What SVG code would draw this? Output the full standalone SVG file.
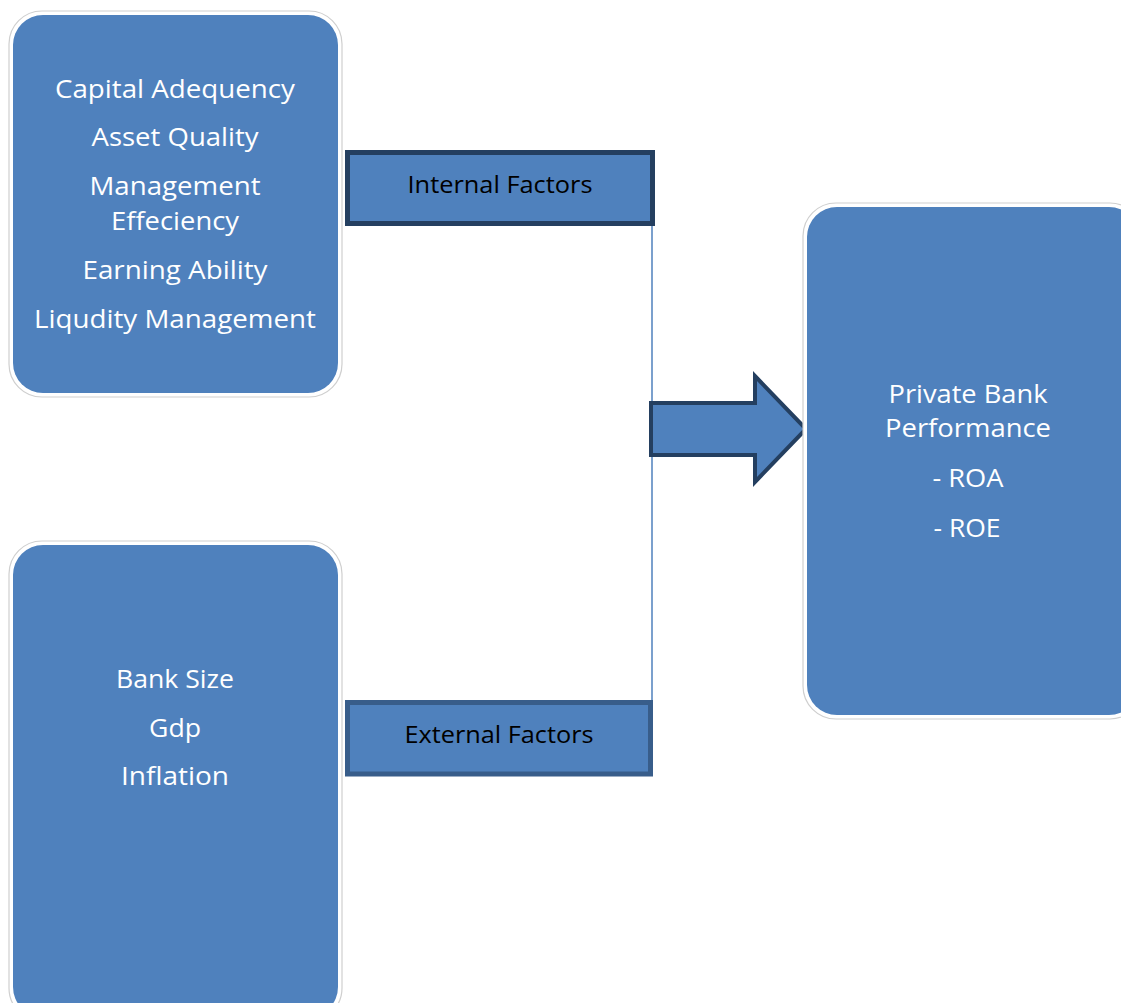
<svg xmlns="http://www.w3.org/2000/svg" width="1121" height="1003" viewBox="0 0 1121 1003">
  <style>
    .halo { fill: #ffffff; stroke: #cfcfcf; stroke-width: 1.2; }
    .panel { fill: #4f81bd; }
    .label { fill: #ffffff; font-family: "Open Sans", "Noto Sans", "Liberation Sans", sans-serif; font-size: 26px; text-anchor: middle; }
    .tag { fill: #4f81bd; stroke-width: 5; }
    .tagtext { fill: #000000; font-family: "Open Sans", "Noto Sans", "Liberation Sans", sans-serif; font-size: 23px; text-anchor: middle; }
  </style>
  <rect width="1121" height="1003" fill="#ffffff"/>

  <g id="connectors">
    <line x1="652" y1="224" x2="652" y2="702" stroke="#4f81bd" stroke-width="1.5"/>
    <polygon points="651,403 755,403 755,376 806,429 755,482 755,455 651,455" fill="#4f81bd" stroke="#243f60" stroke-width="4" stroke-linejoin="miter"/>
  </g>

  <g id="internal-variables">
    <rect class="halo" x="9" y="11" width="333" height="386" rx="33"/>
    <rect class="panel" x="13" y="15" width="325" height="378" rx="30"/>
    <text class="label" x="175" y="98" textLength="240" lengthAdjust="spacingAndGlyphs">Capital Adequency</text>
    <text class="label" x="175" y="146" textLength="167" lengthAdjust="spacingAndGlyphs">Asset Quality</text>
    <text class="label" x="175" y="195" textLength="171" lengthAdjust="spacingAndGlyphs">Management</text>
    <text class="label" x="175" y="230" textLength="128" lengthAdjust="spacingAndGlyphs">Effeciency</text>
    <text class="label" x="175" y="279" textLength="185" lengthAdjust="spacingAndGlyphs">Earning Ability</text>
    <text class="label" x="175" y="328" textLength="282" lengthAdjust="spacingAndGlyphs">Liqudity Management</text>
  </g>

  <g id="external-variables">
    <rect class="halo" x="9" y="541" width="333" height="480" rx="33"/>
    <rect class="panel" x="13" y="545" width="325" height="472" rx="30"/>
    <text class="label" x="175" y="688" textLength="118" lengthAdjust="spacingAndGlyphs">Bank Size</text>
    <text class="label" x="175" y="737" textLength="52" lengthAdjust="spacingAndGlyphs">Gdp</text>
    <text class="label" x="175" y="785" textLength="108" lengthAdjust="spacingAndGlyphs">Inflation</text>
  </g>

  <g id="internal-factors">
    <rect class="tag" x="347.5" y="152.5" width="305" height="71" stroke="#243f60"/>
    <text class="tagtext" x="500" y="193" textLength="185" lengthAdjust="spacingAndGlyphs">Internal Factors</text>
  </g>

  <g id="external-factors">
    <rect class="tag" x="347.5" y="702.5" width="303" height="71.5" stroke="#385d8a"/>
    <text class="tagtext" x="499" y="743" textLength="189" lengthAdjust="spacingAndGlyphs">External Factors</text>
  </g>

  <g id="performance">
    <rect class="halo" x="803" y="203" width="340" height="516" rx="33"/>
    <rect class="panel" x="807" y="207" width="332" height="508" rx="30"/>
    <text class="label" x="968" y="403" textLength="159" lengthAdjust="spacingAndGlyphs">Private Bank</text>
    <text class="label" x="968" y="437" textLength="166" lengthAdjust="spacingAndGlyphs">Performance</text>
    <text class="label" x="968" y="487" textLength="71" lengthAdjust="spacingAndGlyphs">- ROA</text>
    <text class="label" x="967" y="537" textLength="67" lengthAdjust="spacingAndGlyphs">- ROE</text>
  </g>
</svg>
